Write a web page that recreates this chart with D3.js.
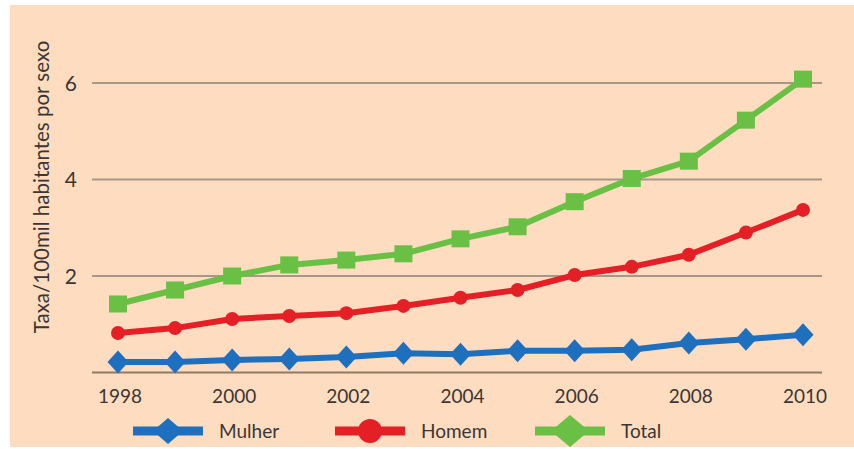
<!DOCTYPE html>
<html>
<head>
<meta charset="utf-8">
<script src="https://cdn.jsdelivr.net/npm/d3@7"></script>
<style>
  html, body { margin: 0; padding: 0; background: #ffffff; }
  svg { display: block; }
  text { font-family: Lato, "Open Sans", sans-serif; fill: #3b3633; }
</style>
</head>
<body>
<svg id="chart" width="854" height="449"></svg>
<script>
// Taxa por 100 mil habitantes, 1998–2010
const years  = [1998, 1999, 2000, 2001, 2002, 2003, 2004, 2005, 2006, 2007, 2008, 2009, 2010];
const mulher = [0.22, 0.22, 0.26, 0.28, 0.32, 0.40, 0.38, 0.45, 0.45, 0.47, 0.61, 0.69, 0.78];
const homem  = [0.82, 0.92, 1.11, 1.17, 1.23, 1.38, 1.55, 1.71, 2.02, 2.19, 2.44, 2.90, 3.37];
const total  = [1.42, 1.71, 2.00, 2.23, 2.33, 2.46, 2.77, 3.02, 3.54, 4.02, 4.38, 5.23, 6.08];
const yTicks = [2, 4, 6];
const xTicks = [1998, 2000, 2002, 2004, 2006, 2008, 2010];
const seriesNames = ["Mulher", "Homem", "Total"];
const yTitle = "Taxa/100mil habitantes por sexo";

const colors = { Mulher: "#1f6fbf", Homem: "#e42026", Total: "#6abf45" };
const series = [
  { name: "Mulher", values: mulher, marker: "diamond" },
  { name: "Homem",  values: homem,  marker: "circle" },
  { name: "Total",  values: total,  marker: "square" }
];

const svg = d3.select("#chart");

// panel background
svg.append("rect")
  .attr("x", 10).attr("y", 5).attr("width", 844).attr("height", 442)
  .attr("fill", "#fddcc0");

const x = d3.scaleLinear().domain([1998, 2010]).range([118, 803]);
const y = d3.scaleLinear().domain([0, 6]).range([372.5, 83]);
const gridX0 = 92, gridX1 = 822;

// horizontal gridlines and baseline
svg.append("g").selectAll("line")
  .data([0].concat(yTicks))
  .join("line")
  .attr("x1", gridX0).attr("x2", gridX1)
  .attr("y1", d => y(d)).attr("y2", d => y(d))
  .attr("stroke", d => d === 0 ? "#8f7a66" : "#a8968a")
  .attr("stroke-width", 2);

// y tick labels
svg.append("g").selectAll("text")
  .data(yTicks)
  .join("text")
  .attr("x", 77).attr("y", d => y(d))
  .attr("dy", "0.36em")
  .attr("text-anchor", "end")
  .style("font-size", "21px")
  .text(d => d);

// x tick labels
svg.append("g").selectAll("text")
  .data(xTicks)
  .join("text")
  .attr("x", d => x(d) + 2).attr("y", 403)
  .attr("text-anchor", "middle")
  .style("font-size", "19px")
  .text(d => d);

// y axis title
svg.append("text")
  .attr("transform", `translate(49, 187) rotate(-90)`)
  .attr("text-anchor", "middle")
  .style("font-size", "20.5px")
  .text(yTitle);

function drawMarker(g, type, cx, cy, size, color) {
  if (type === "diamond") {
    const w = size.w / 2, h = size.h / 2;
    g.append("path")
      .attr("d", `M${cx},${cy - h}L${cx + w},${cy}L${cx},${cy + h}L${cx - w},${cy}Z`)
      .attr("fill", color);
  } else if (type === "circle") {
    g.append("circle").attr("cx", cx).attr("cy", cy).attr("r", size.w / 2).attr("fill", color);
  } else {
    g.append("rect")
      .attr("x", cx - size.w / 2).attr("y", cy - size.h / 2)
      .attr("width", size.w).attr("height", size.h)
      .attr("fill", color);
  }
}

const markerSize = {
  diamond: { w: 21, h: 23 },
  circle:  { w: 14, h: 14 },
  square:  { w: 18, h: 17 }
};

const line = d3.line().x(d => x(d.year)).y(d => y(d.v));

series.forEach(s => {
  const pts = years.map((yr, i) => ({ year: yr, v: s.values[i] }));
  const g = svg.append("g");
  g.append("path")
    .datum(pts)
    .attr("d", line)
    .attr("fill", "none")
    .attr("stroke", colors[s.name])
    .attr("stroke-width", 6)
    .attr("stroke-linejoin", "round");
  pts.forEach(p => drawMarker(g, s.marker, x(p.year), y(p.v), markerSize[s.marker], colors[s.name]));
});

// legend
const legendItems = [
  { name: seriesNames[0], x0: 133, marker: "diamond", size: { w: 30, h: 26 } },
  { name: seriesNames[1], x0: 335, marker: "circle",  size: { w: 24, h: 24 } },
  { name: seriesNames[2], x0: 535, marker: "diamond", size: { w: 38, h: 32 } }
];
const legY = 431;
legendItems.forEach(it => {
  const g = svg.append("g");
  g.append("line")
    .attr("x1", it.x0).attr("x2", it.x0 + 70)
    .attr("y1", legY).attr("y2", legY)
    .attr("stroke", colors[it.name]).attr("stroke-width", 9);
  drawMarker(g, it.marker, it.x0 + 35, legY, it.size, colors[it.name]);
  g.append("text")
    .attr("x", it.x0 + 86).attr("y", legY)
    .attr("dy", "0.36em")
    .style("font-size", "19px")
    .text(it.name);
});
</script>
</body>
</html>
